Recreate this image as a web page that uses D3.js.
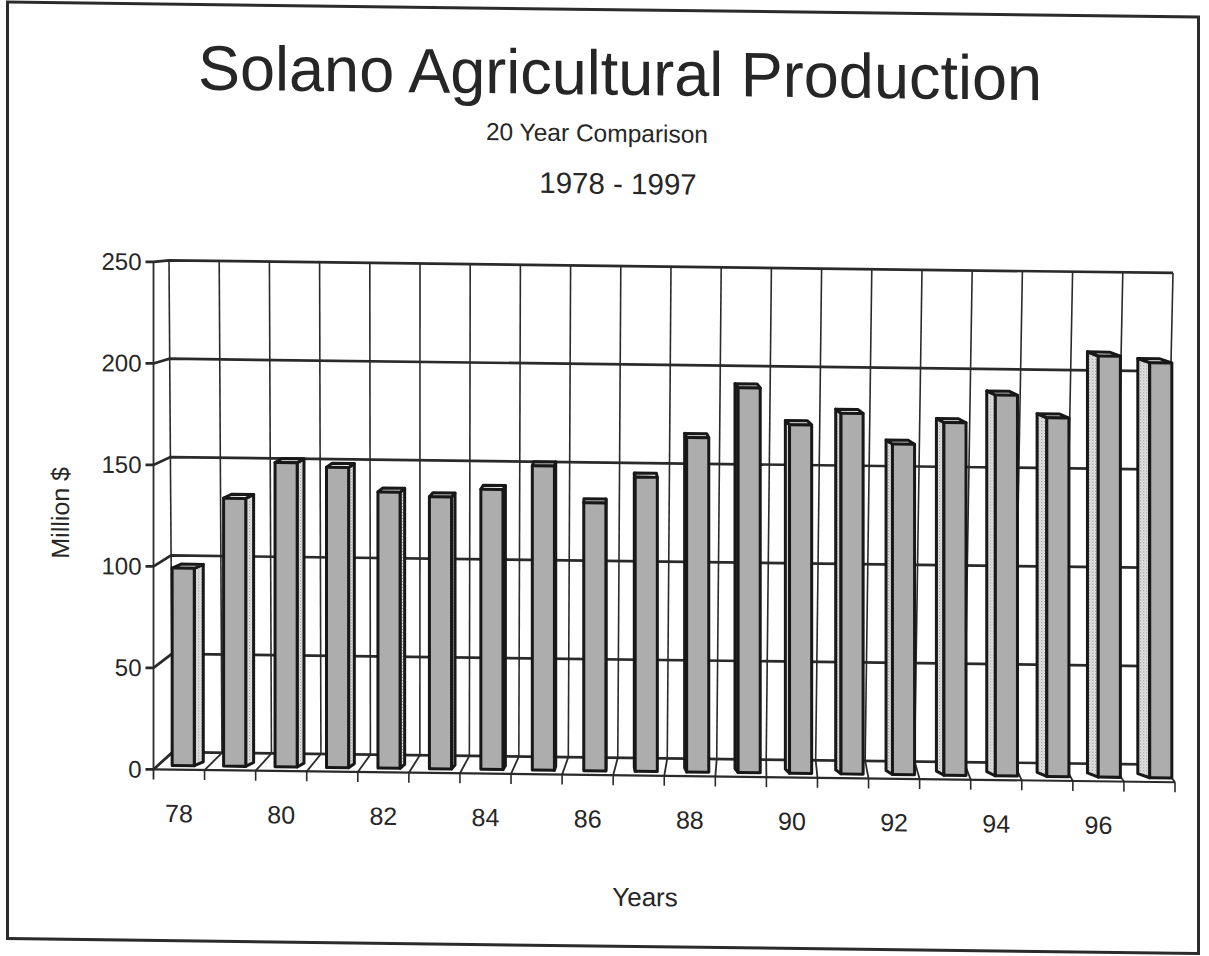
<!DOCTYPE html>
<html>
<head>
<meta charset="utf-8">
<title>Solano Agricultural Production</title>
<script src="https://d3js.org/d3.v7.min.js"></script>
<style>
  body { margin: 0; background: #fff; }
  text { font-family: "Liberation Sans", Arial, Helvetica, sans-serif; fill: #262626; }
</style>
</head>
<body>
<div id="chart"></div>
<script>
// Values, million $
var years = ["78", "79", "80", "81", "82", "83", "84", "85", "86", "87",
             "88", "89", "90", "91", "92", "93", "94", "95", "96", "97"];
var production = [98, 133, 151, 149, 137, 135, 139, 151, 133, 146,
                  166, 191, 173, 179, 164, 175, 189, 178, 209, 206];
var yTicks = [0, 50, 100, 150, 200, 250];
var xTickLabels = ["78", "80", "82", "84", "86", "88", "90", "92", "94", "96"];

var svgWidth = 1209;
var svgHeight = 956;

var svg = d3.select("#chart")
  .append("svg")
  .attr("width", svgWidth)
  .attr("height", svgHeight);

// dotted fill for the side faces
var defs = svg.append("defs");
var dots = defs.append("pattern")
  .attr("id", "dots")
  .attr("width", 3)
  .attr("height", 3)
  .attr("patternUnits", "userSpaceOnUse");
dots.append("rect").attr("width", 3).attr("height", 3).attr("fill", "#e4e4e4");
dots.append("rect").attr("width", 1).attr("height", 1).attr("fill", "#8c8c8c");
dots.append("rect").attr("x", 1.5).attr("y", 1.5).attr("width", 1).attr("height", 1).attr("fill", "#a8a8a8");

// the scanned page is slightly tilted, so everything follows it
var page = svg.append("g")
  .attr("transform", "skewY(0.72)");

page.append("rect")
  .attr("x", 7.5)
  .attr("y", 2)
  .attr("width", 1191)
  .attr("height", 936.5)
  .attr("fill", "#fff")
  .attr("stroke", "#2b2b2b")
  .attr("stroke-width", 3);

var nCat = years.length;
var yMax = yTicks[yTicks.length - 1];

// front plane scales
var xScale = d3.scaleLinear().domain([0, nCat]).range([153.5, 1175]);
var yScale = d3.scaleLinear().domain([0, yMax]).range([767.5, 260]);

// back wall: a bit narrower at the floor than at the top
var backBottomX = d3.scaleLinear().domain([0, nCat]).range([172.5, 1162]);
var backTopX = d3.scaleLinear().domain([0, nCat]).range([169, 1173]);

// rough perspective, depth 0 = front plane, 1 = back wall
var vanishY = 203;
var shrink = 0.031;
function backX(u, v) {
  var t = v / yMax;
  return backBottomX(u) + (backTopX(u) - backBottomX(u)) * t;
}
function px(u, depth, v) {
  var xf = xScale(u);
  return xf + (backX(u, v || 0) - xf) * depth;
}
function py(v, depth) {
  return vanishY + (yScale(v) - vanishY) * (1 - shrink * depth);
}

var lineColor = "#2a2a2a";

var grid = page.append("g")
  .attr("stroke", lineColor)
  .attr("fill", "none");

// vertical grid lines on the back wall
grid.selectAll(".vgrid")
  .data(d3.range(nCat + 1))
  .enter()
  .append("line")
  .attr("x1", d => px(d, 1, 0))
  .attr("x2", d => px(d, 1, yMax))
  .attr("y1", py(0, 1))
  .attr("y2", py(yMax, 1))
  .attr("stroke-width", 1.6);

// horizontal grid lines: tick + left wall + back wall
grid.selectAll(".hgrid")
  .data(yTicks)
  .enter()
  .append("path")
  .attr("d", d => "M" + (px(0, 0) - 8) + "," + py(d, 0) +
                  "L" + px(0, 0) + "," + py(d, 0) +
                  "L" + px(0, 1, d) + "," + py(d, 1) +
                  "L" + px(nCat, 1, d) + "," + py(d, 1))
  .attr("stroke-width", 2.7);

// floor
grid.selectAll(".floor")
  .data(d3.range(nCat + 1))
  .enter()
  .append("line")
  .attr("x1", d => px(d, 0))
  .attr("y1", py(0, 0))
  .attr("x2", d => px(d, 1, 0))
  .attr("y2", py(0, 1))
  .attr("stroke-width", 1.8);

grid.append("line")
  .attr("x1", px(0, 0)).attr("y1", py(0, 0))
  .attr("x2", px(nCat, 0)).attr("y2", py(0, 0))
  .attr("stroke-width", 2.2);

// left axis line
grid.append("line")
  .attr("x1", px(0, 0)).attr("y1", py(0, 0) + 10)
  .attr("x2", px(0, 0)).attr("y2", py(yMax, 0))
  .attr("stroke-width", 1.8);

// x ticks below the front edge
grid.selectAll(".xtick")
  .data(d3.range(1, nCat + 1))
  .enter()
  .append("line")
  .attr("x1", d => px(d, 0))
  .attr("x2", d => px(d, 0))
  .attr("y1", py(0, 0))
  .attr("y2", py(0, 0) + 10)
  .attr("stroke-width", 1.6);

// bars: spread a little wider than the front plane, sitting just behind it
var barScale = d3.scaleLinear().domain([0, nCat]).range([149, 1178]);
var barDepthY = 0.24;
var barStart = 0.45;
var barEnd = 0.88;
var topDy = -4;
function sideDx(i) { return 9 - 1.1 * i; }

var bars = page.selectAll(".bar")
  .data(production)
  .enter()
  .append("g")
  .attr("stroke", "#181818")
  .attr("stroke-width", 3)
  .attr("stroke-linejoin", "round");

bars.each(function(d, i) {
  var g = d3.select(this);
  var x0 = barScale(i + barStart);
  var x1 = barScale(i + barEnd);
  var yt = py(d, barDepthY);
  var yb = py(0, barDepthY);
  var dx = sideDx(i);
  var sx = dx > 0 ? x1 : x0;

  g.append("polygon")
    .attr("points", [[sx, yt], [sx + dx, yt + topDy], [sx + dx, yb + topDy], [sx, yb]].join(" "))
    .attr("fill", "url(#dots)");
  g.append("polygon")
    .attr("points", [[x0, yt], [x1, yt], [x1 + dx, yt + topDy], [x0 + dx, yt + topDy]].join(" "))
    .attr("fill", "#f2f2f2");
  g.append("rect")
    .attr("x", x0)
    .attr("y", yt)
    .attr("width", x1 - x0)
    .attr("height", yb - yt)
    .attr("fill", "#adadad");
});

// y tick labels
page.selectAll(".ylabel")
  .data(yTicks)
  .enter()
  .append("text")
  .attr("x", px(0, 0) - 12)
  .attr("y", d => py(d, 0))
  .attr("dy", "0.35em")
  .attr("text-anchor", "end")
  .attr("font-size", 24)
  .text(d => d);

// x tick labels, every other year
page.selectAll(".xlabel")
  .data(xTickLabels)
  .enter()
  .append("text")
  .attr("x", d => px(years.indexOf(d) + 0.5, 0))
  .attr("y", 820)
  .attr("text-anchor", "middle")
  .attr("font-size", 25)
  .text(d => d);

// titles
page.append("text")
  .attr("x", 620).attr("y", 87)
  .attr("text-anchor", "middle")
  .attr("font-size", 63)
  .text("Solano Agricultural Production");

page.append("text")
  .attr("x", 597).attr("y", 134)
  .attr("text-anchor", "middle")
  .attr("font-size", 24.5)
  .text("20 Year Comparison");

page.append("text")
  .attr("x", 618).attr("y", 186)
  .attr("text-anchor", "middle")
  .attr("font-size", 29.5)
  .text("1978 - 1997");

page.append("text")
  .attr("x", 645).attr("y", 898)
  .attr("text-anchor", "middle")
  .attr("font-size", 26)
  .text("Years");

page.append("text")
  .attr("transform", "translate(69, 512) rotate(-90)")
  .attr("text-anchor", "middle")
  .attr("font-size", 25)
  .text("Million $");
</script>
</body>
</html>
